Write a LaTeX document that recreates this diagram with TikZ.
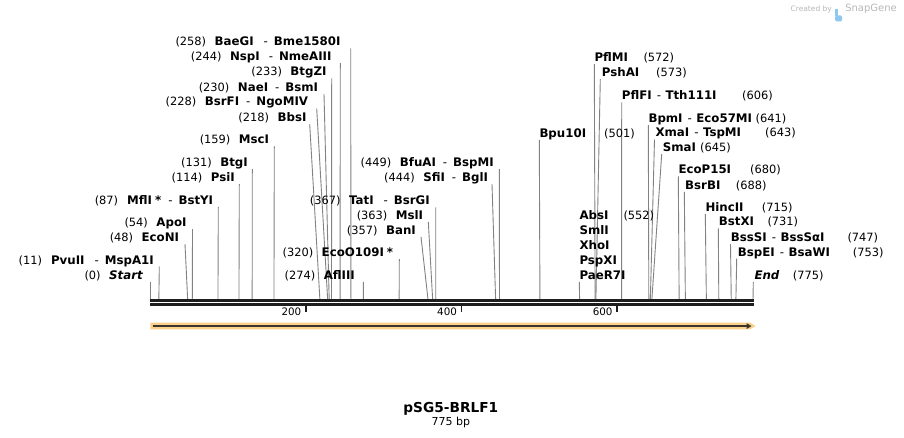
\documentclass[tikz,border=0pt]{standalone}
\usepackage{fontspec}
\setmainfont{DejaVu Sans}
\usetikzlibrary{arrows.meta}
\definecolor{cutgray}{HTML}{828282}
\definecolor{featorange}{HTML}{FBD089}
\definecolor{featdark}{HTML}{3A3530}
\definecolor{rulerblack}{HTML}{1E1E1E}
\definecolor{logogray}{HTML}{B8B8B8}
\definecolor{logoblue}{HTML}{8CC8F0}
\newcommand\pn[1]{{\fontsize{11.4}{13}\selectfont\mdseries(#1)}}
\newcommand\dsh{\hspace{7pt}{\mdseries-}\hspace{6pt}}
\newcommand\rdsh{\hspace{5pt}{\mdseries-}\hspace{4.5pt}}
\newcommand\siteline[4]{%
  \coordinate (#1t) at (#2,#3);
  \coordinate (#1b) at ({150.3+0.7777*#4},298.8);
  \draw[cutline] (#1t) -- (#1b);}
\begin{document}
\begin{tikzpicture}[x=1pt,y=-1pt,
  lab/.style={inner sep=0pt, font=\fontsize{11.8}{14}\selectfont\bfseries},
  posn/.style={inner sep=0pt, font=\fontsize{11.4}{13}\selectfont},
  cutline/.style={draw=cutgray, line width=0.9pt},
  bar/.style={draw=rulerblack},
  tickmark/.style={draw=rulerblack, line width=1.8pt},
  ticklab/.style={inner sep=0pt, font=\fontsize{10.3}{12}\selectfont, anchor=base east}]
\useasboundingbox (0,0) rectangle (904,438);
\fill[white] (0,0) rectangle (904,438);

% ---------- cut site lines ----------
\siteline{Start}{150.3}{281.5}{0}
\siteline{Pvu}{159.3}{266.5}{11}
\siteline{EcoN}{185}{244.2}{48}
\siteline{Apo}{192.5}{229.2}{54}
\siteline{Mfl}{218.3}{206.8}{87}
\siteline{Psi}{239.3}{184.2}{114}
\siteline{Btg}{252.3}{169.2}{131}
\siteline{Msc}{274.3}{146.5}{159}
\siteline{Bbs}{309.7}{124.2}{218}
\siteline{BsrF}{316.7}{108.5}{228}
\siteline{Nae}{324}{94.2}{230}
\siteline{BtgZ}{331.7}{78.5}{233}
\siteline{Nsp}{340.3}{63.2}{244}
\siteline{Bae}{350.7}{48.5}{258}
\siteline{Afl}{363.3}{281.8}{274}
\siteline{EcoO}{399.3}{259.2}{320}
\siteline{Ban}{421}{236.8}{357}
\siteline{Msl}{428.3}{221.8}{363}
\siteline{Tat}{435.7}{207.5}{367}
\siteline{Sfi}{492}{184.2}{444}
\siteline{Bfu}{499.3}{169.2}{449}
\siteline{Bpu}{539.3}{139.8}{501}
\siteline{Abs}{579.3}{281.8}{552}
\siteline{PflM}{594.3}{64.2}{572}
\siteline{Psh}{600.3}{79.2}{573}
\siteline{PflF}{621.7}{102.5}{606}
\siteline{Bpm}{648.3}{125.2}{641}
\siteline{Xma}{654.5}{139.5}{643}
\siteline{Sma}{661.7}{154.2}{645}
\siteline{EcoP}{678.3}{176.5}{680}
\siteline{BsrB}{684.3}{191.8}{688}
\siteline{Hinc}{705.3}{214.2}{715}
\siteline{BstX}{718.3}{228.5}{731}
\siteline{BssS}{730.5}{244.2}{747}
\siteline{BspE}{736.7}{258.5}{753}
\siteline{End}{753.3}{281.8}{775}

% ---------- left labels ----------
\node[lab, anchor=base east] (lStart) at (143.3,279.3) {\pn{0}\hspace{8.5pt}\textit{Start}};
\node[lab, anchor=base east] (lPvu) at (154,264) {\pn{11}\hspace{9pt}PvuII\hspace{3pt}\dsh MspA1I};
\node[lab, anchor=base east] (lEcoN) at (179.3,241.7) {\pn{48}\hspace{8.5pt}EcoNI};
\node[lab, anchor=base east] (lApo) at (186.7,226.7) {\pn{54}\hspace{8.5pt}ApoI};
\node[lab, anchor=base east] (lMfl) at (213.3,204.3) {\pn{87}\hspace{9pt}MflI\hspace{3pt}*\dsh BstYI};
\node[lab, anchor=base east] (lPsi) at (235,181.7) {\pn{114}\hspace{8.5pt}PsiI};
\node[lab, anchor=base east] (lBtg) at (248,166.7) {\pn{131}\hspace{8.5pt}BtgI};
\node[lab, anchor=base east] (lMsc) at (269.3,144) {\pn{159}\hspace{8.5pt}MscI};
\node[lab, anchor=base east] (lBbs) at (306.7,121.7) {\pn{218}\hspace{8.5pt}BbsI};
\node[lab, anchor=base east] (lBsrF) at (308.3,106) {\pn{228}\hspace{8.5pt}BsrFI\dsh NgoMIV};
\node[lab, anchor=base east] (lNae) at (318.3,91.7) {\pn{230}\hspace{8.5pt}NaeI\dsh BsmI};
\node[lab, anchor=base east] (lBtgZ) at (326.7,76) {\pn{233}\hspace{8.5pt}BtgZI};
\node[lab, anchor=base east] (lNsp) at (331.7,60.7) {\pn{244}\hspace{8.5pt}NspI\hspace{2pt}\dsh NmeAIII};
\node[lab, anchor=base east] (lBae) at (340.7,46) {\pn{258}\hspace{8.5pt}BaeGI\hspace{3pt}\dsh Bme1580I};
\node[lab, anchor=base east] (lAfl) at (355,279.3) {\pn{274}\hspace{8.5pt}AflIII};
\node[lab, anchor=base east] (lEcoO) at (393.3,256.7) {\pn{320}\hspace{8.5pt}EcoO109I\hspace{3pt}*};
\node[lab, anchor=base east] (lBan) at (416,234.3) {\pn{357}\hspace{8.5pt}BanI};
\node[lab, anchor=base east] (lMsl) at (423.3,219.3) {\pn{363}\hspace{8.5pt}MslI};
\node[lab, anchor=base east] (lTat) at (430,205) {\pn{367}\hspace{8.5pt}TatI\hspace{3pt}\dsh BsrGI};
\node[lab, anchor=base east] (lSfi) at (488.3,181.7) {\pn{444}\hspace{8.5pt}SfiI\dsh BglI};
\node[lab, anchor=base east] (lBfu) at (494,166.7) {\pn{449}\hspace{8.5pt}BfuAI\dsh BspMI};

% ---------- right labels ----------
\node[lab, anchor=base west] (rBpu) at (539.3,137.3) {Bpu10I};
\node[posn, anchor=base west] (pBpu) at (604,137.3) {(501)};
\node[lab, anchor=base west] (rPflM) at (594.3,61.7) {PflMI};
\node[posn, anchor=base west] (pPflM) at (643.3,61.7) {(572)};
\node[lab, anchor=base west] (rPsh) at (601.7,76.7) {PshAI};
\node[posn, anchor=base west] (pPsh) at (656,76.7) {(573)};
\node[lab, anchor=base west] (rPflF) at (621.7,100) {PflFI\rdsh Tth111I};
\node[posn, anchor=base west] (pPflF) at (742,100) {(606)};
\node[lab, anchor=base west] (rBpm) at (648.3,122.7) {BpmI\rdsh Eco57MI};
\node[posn, anchor=base west] (pBpm) at (755.5,122.7) {(641)};
\node[lab, anchor=base west] (rXma) at (655.3,137) {XmaI\rdsh TspMI};
\node[posn, anchor=base west] (pXma) at (765,137) {(643)};
\node[lab, anchor=base west] (rSma) at (662.7,151.7) {SmaI};
\node[posn, anchor=base west] (pSma) at (700,151.7) {(645)};
\node[lab, anchor=base west] (rEcoP) at (678.3,174) {EcoP15I};
\node[posn, anchor=base west] (pEcoP) at (750,174) {(680)};
\node[lab, anchor=base west] (rBsrB) at (685,189.3) {BsrBI};
\node[posn, anchor=base west] (pBsrB) at (735.7,189.3) {(688)};
\node[lab, anchor=base west] (rHinc) at (705.3,211.7) {HincII};
\node[posn, anchor=base west] (pHinc) at (761.7,211.7) {(715)};
\node[lab, anchor=base west] (rBstX) at (718.7,226) {BstXI};
\node[posn, anchor=base west] (pBstX) at (767.3,226) {(731)};
\node[lab, anchor=base west] (rBssS) at (730.7,241.7) {BssSI\rdsh BssSαI};
\node[posn, anchor=base west] (pBssS) at (847.3,241.7) {(747)};
\node[lab, anchor=base west] (rBspE) at (737.7,256) {BspEI\rdsh BsaWI};
\node[posn, anchor=base west] (pBspE) at (852.7,256) {(753)};
\node[lab, anchor=base west] (rEnd) at (754.3,279.3) {\textit{End}};
\node[posn, anchor=base west] (pEnd) at (792.7,279.3) {(775)};
\node[lab, anchor=base west] (rAbs) at (579.3,220) {AbsI};
\node[posn, anchor=base west] (pAbs) at (623.3,220) {(552)};
\node[lab, anchor=base west] (rSml) at (579.3,234.3) {SmlI};
\node[lab, anchor=base west] (rXho) at (579.3,249.3) {XhoI};
\node[lab, anchor=base west] (rPsp) at (579.3,264) {PspXI};
\node[lab, anchor=base west] (rPae) at (579.3,279.3) {PaeR7I};

% ---------- ruler ----------
\draw[bar, line width=2.7pt] (150.3,300.3) -- (754,300.3);
\draw[bar, line width=2.5pt] (150.3,304.5) -- (754,304.5);
\coordinate (t200) at (305.8,305.6);
\coordinate (t400) at (461.4,305.6);
\coordinate (t600) at (617,305.6);
\draw[tickmark] (t200) -- ++(0,6.8);
\draw[tickmark] (t400) -- ++(0,6.8);
\draw[tickmark] (t600) -- ++(0,6.8);
\node[ticklab] (n200) at (301.5,315) {200};
\node[ticklab] (n400) at (457.1,315) {400};
\node[ticklab] (n600) at (612.7,315) {600};

% ---------- feature arrow ----------
\fill[featorange] (150.3,322.7) -- (750,322.7) -- (755.5,326) -- (750,329.3) -- (150.3,329.3) -- cycle;
\coordinate (fs) at (152.5,326.1);
\coordinate (fe) at (751.5,326.1);
\draw[featdark, line width=1.8pt, -{Triangle[length=5pt,width=5.5pt]}] (fs) -- (fe);

% ---------- title ----------
\node[inner sep=0pt, anchor=base, font=\fontsize{13.7}{16}\selectfont\bfseries] (title) at (450.8,412.7) {pSG5-BRLF1};
\node[inner sep=0pt, anchor=base, font=\fontsize{11}{13}\selectfont] (len) at (450.8,425.3) {775 bp};

% ---------- watermark ----------
\node[inner sep=0pt, anchor=base east, font=\fontsize{10}{11}\selectfont, text=logogray] (sg) at (897,11.5) {SnapGene};
\fill[logoblue, rounded corners=1.5pt] ([xshift=-10pt,yshift=-10pt]sg.base west) rectangle ([xshift=-3pt,yshift=-4pt]sg.base west);
\fill[logoblue] ([xshift=-10pt,yshift=-5pt]sg.base west) rectangle ([xshift=-7pt,yshift=2pt]sg.base west);
\node[inner sep=0pt, anchor=base east, font=\fontsize{7.5}{8}\selectfont, text=logogray] (cb) at ([xshift=-13pt]sg.base west) {Created by};
\end{tikzpicture}
\end{document}
